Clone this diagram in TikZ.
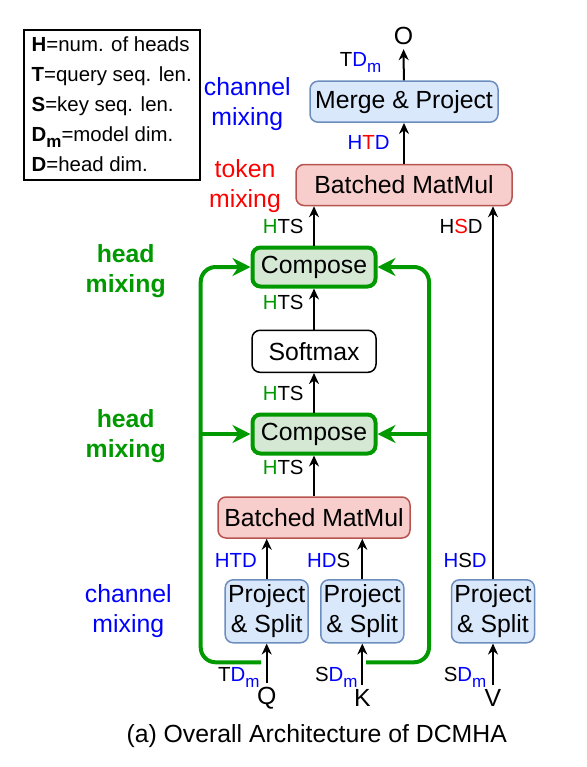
\documentclass[tikz,border=0pt]{standalone}
\usepackage{fontspec}
\setmainfont{Liberation Sans}
\usetikzlibrary{arrows.meta}
\definecolor{mixblue}{HTML}{0000FF}
\definecolor{mixred}{HTML}{FF0000}
\definecolor{mixgreen}{HTML}{009900}
\definecolor{projfill}{HTML}{DAE8FC}
\definecolor{projline}{HTML}{6C8EBF}
\definecolor{mulfill}{HTML}{F8CECC}
\definecolor{mulline}{HTML}{B85450}
\definecolor{compfill}{HTML}{D5E8D4}
\newcommand{\bigtxt}{\fontsize{12.4}{15}\selectfont}
\newcommand{\smalltxt}{\fontsize{10.2}{15}\selectfont}
\newcommand{\bl}[1]{\textcolor{mixblue}{#1}}
\newcommand{\rd}[1]{\textcolor{mixred}{#1}}
\newcommand{\gr}[1]{\textcolor{mixgreen}{#1}}
\newcommand{\msub}{\raisebox{-3pt}{\fontsize{8.5}{9}\selectfont m}}

\begin{document}
\begin{tikzpicture}[x=.5pt,y=-.5pt,>={Stealth[length=5.5pt,width=5pt]},
    box/.style={draw,rounded corners=4pt,line width=.75pt,inner sep=0pt,font=\bigtxt},
    proj/.style={box,fill=projfill,draw=projline,minimum width=41.5pt,minimum height=31.5pt,align=center},
    mul/.style={box,fill=mulfill,draw=mulline,minimum height=20.5pt},
    comp/.style={box,fill=compfill,draw=mixgreen,line width=2pt,minimum width=61.5pt,minimum height=19.5pt},
    dim/.style={font=\smalltxt,inner sep=0pt,anchor=base east},
    side/.style={font=\bigtxt,align=center,inner sep=0pt},
    inp/.style={font=\bigtxt,inner sep=2pt},
    mix/.style={draw=mixgreen,line width=2pt,rounded corners=7.5pt,-{Stealth[length=9pt,width=9pt]}},
    link/.style={->,line width=1pt}]
  \useasboundingbox (0,0) rectangle (587,767);

  % legend
  \node[draw,line width=1pt,align=left,font=\smalltxt,inner xsep=4pt,minimum width=88pt,minimum height=75pt,anchor=north west] (key) at (22.7,28.7)
    {\textbf{H}=num. of heads\\ \textbf{T}=query seq. len.\\ \textbf{S}=key seq. len.\\ \textbf{D\msub}=model dim.\\ \textbf{D}=head dim.};

  % blocks
  \node[box,fill=projfill,draw=projline,minimum width=94pt,minimum height=20.5pt] (merge) at (404,101.7) {Merge \& Project};
  \node[mul,minimum width=108pt] (mmTop) at (404,185) {Batched MatMul};
  \node[comp] (cmpA) at (314,267) {Compose};
  \node[box,minimum width=62pt,minimum height=21pt] (soft) at (314,351.3) {Softmax};
  \node[comp] (cmpB) at (314,434) {Compose};
  \node[mul,minimum width=96pt] (mmLow) at (314,517.5) {Batched MatMul};
  \node[inp] (out) at (403.5,36) {O};

  \foreach \n/\x in {Q/266.7,K/362.3,V/493}
  {
    \node[proj] (ps\n) at (\x,611.3) {Project\\\& Split};
    \node[inp] (in\n) at (\x,698) {\n};
    \draw[link] (in\n) -- (ps\n);
  }

  % data flow
  \draw[link] (psQ) -- (psQ |- mmLow.south);
  \draw[link] (psK) -- (psK |- mmLow.south);
  \draw[link] (mmLow) -- (cmpB);
  \draw[link] (cmpB) -- (soft);
  \draw[link] (soft) -- (cmpA);
  \draw[link] (cmpA) -- (cmpA |- mmTop.south);
  \draw[link] (psV) -- (psV |- mmTop.south);
  \draw[link] (mmTop) -- (merge);
  \draw[link] (merge) -- (out);

  % head mixing loops
  \coordinate (qtap) at (261,662.3);
  \coordinate (ktap) at (366,662.3);
  \coordinate (lbus) at (200.7,267);
  \coordinate (rbus) at (429,267);
  \draw[mix] (qtap) -| (lbus) -- (cmpA.west);
  \draw[mix] (lbus |- cmpB.west) -- (cmpB.west);
  \draw[mix] (ktap) -| (rbus) -- (cmpA.east);
  \draw[mix] (rbus |- cmpB.east) -- (cmpB.east);

  % shapes on the arrows
  \node[dim] (dOut) at (381.7,66.7) {T\bl{D\msub}};
  \node[dim] (dMerge) at (390,149.3) {\bl{H}\rd{T}\bl{D}};
  \node[dim] (dVal) at (483,233.3) {H\rd{S}D};
  \foreach \y [count=\i] in {233.3,309.3,400,474}
    \node[dim] (hts\i) at (304,\y) {\gr{H}TS};
  \node[dim] (dQ) at (257.3,567.3) {\bl{HTD}};
  \node[dim] (dK) at (350.7,567.3) {\bl{HD}S};
  \node[dim] (dV) at (487,567.3) {\bl{H}S\bl{D}};
  \node[dim] (dinQ) at (260,681.7) {T\bl{D\msub}};
  \node[dim] (dinK) at (358,681.7) {S\bl{D\msub}};
  \node[dim] (dinV) at (486.7,681.7) {S\bl{D\msub}};

  % kinds of mixing
  \node[side,text=mixblue] (chTop) at (247.3,104.2) {channel\\mixing};
  \node[side,text=mixred] (tokTop) at (245,185.8) {token\\mixing};
  \node[side,text=mixgreen,font=\bigtxt\bfseries] (headA) at (125.7,271) {head\\mixing};
  \node[side,text=mixgreen,font=\bigtxt\bfseries] (headB) at (125.7,436) {head\\mixing};
  \node[side,text=mixblue] (chLow) at (128.3,610.8) {channel\\mixing};

  \node[font=\bigtxt] (caption) at (316.7,736) {(a) Overall Architecture of DCMHA};
\end{tikzpicture}
\end{document}
